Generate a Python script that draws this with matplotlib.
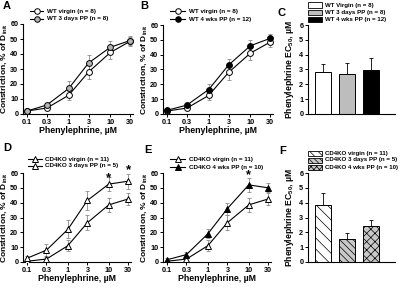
import matplotlib
matplotlib.use('Agg')
import matplotlib.pyplot as plt
import numpy as np

plt.rcParams['font.family'] = ['Liberation Sans', 'DejaVu Sans']
plt.rcParams['font.weight'] = 'bold'
plt.rcParams['axes.labelweight'] = 'bold'
plt.rcParams['mathtext.fontset'] = 'custom'
plt.rcParams['mathtext.rm'] = 'Liberation Sans:bold'
plt.rcParams['mathtext.bf'] = 'Liberation Sans:bold'
plt.rcParams['hatch.linewidth'] = 0.5

# data
conc = [0.1, 0.3, 1, 3, 10, 30]
wt_virgin = [2, 4, 12.5, 28, 41, 48.5]
wt_virgin_err = [1, 1, 3, 5, 4.5, 3]
wt_3d = [2, 6, 17, 34, 44.5, 49]
wt_3d_err = [1, 1.5, 5, 5.5, 4, 3]
wt_4w = [2.5, 6, 16.5, 33, 46, 51]
wt_4w_err = [1, 1, 3.5, 4, 4, 3]

ko_virgin = [0.5, 2, 11, 26.5, 38.5, 42.5]
ko_virgin_err = [1, 1.5, 3.5, 5, 4.5, 4]
ko_3d = [2.5, 8, 22, 41.5, 52.5, 54.5]
ko_3d_err = [1.5, 4, 6, 6.5, 4.5, 5]
ko_4w = [1.5, 5, 19, 36, 52, 50]
ko_4w_err = [1, 1.5, 3, 4, 4.5, 3]

wt_ec50 = [2.8, 2.7, 2.95]
wt_ec50_err = [0.55, 0.72, 0.85]
wt_labels = ['WT Virgin (n = 8)', 'WT 3 days PP (n = 8)', 'WT 4 wks PP (n = 12)']
ko_ec50 = [3.85, 1.55, 2.4]
ko_ec50_err = [0.82, 0.38, 0.4]
ko_labels = ['CD4KO virgin (n = 11)', 'CD4KO 3 days PP (n = 5)', 'CD4KO 4 wks PP (n = 10)']

star_d = [(10, 56.8), (30, 62.2)]
star_e = [(10, 58.3)]

fig = plt.figure(figsize=(4, 2.88), dpi=100)


def px_axes(l, t, r, b):
    return fig.add_axes([l / 400, 1 - b / 288, (r - l) / 400, (b - t) / 288])


def style(ax):
    ax.spines['top'].set_visible(False)
    ax.spines['right'].set_visible(False)
    for s in ['left', 'bottom']:
        ax.spines[s].set_linewidth(0.8)
    ax.tick_params(length=2.2, width=0.7, pad=1.2, labelsize=5.2)


def curve_panel(ax, series):
    for y, e, marker, fc in series:
        ax.errorbar(conc, y, yerr=e, fmt='none', ecolor='#8a8a8a', elinewidth=0.6,
                    capsize=1.3, capthick=0.6, zorder=2)
        ax.plot(conc, y, color='black', lw=0.8, marker=marker, ms=4.2 if marker == 'o' else 4.4,
                mfc=fc, mec='black', mew=0.7, zorder=3)
    ax.set_xscale('log')
    ax.set_xlim(0.08, 35)
    ax.set_ylim(0, 60)
    ax.set_xticks(conc)
    ax.set_xticklabels(['0.1', '0.3', '1', '3', '10', '30'])
    ax.minorticks_off()
    ax.set_yticks(range(0, 61, 10))
    ax.set_xlabel('Phenylephrine, µM', fontsize=6.3, labelpad=0.5)
    ax.set_ylabel(r'Constriction, % of D$_{\mathregular{init}}$', fontsize=6, labelpad=0.5)
    style(ax)


def legend_rows(x0, x1, xt, ys, entries):
    for y, (marker, fc, text) in zip(ys, entries):
        fig.add_artist(plt.Line2D([x0 / 400, x1 / 400], [1 - y / 288] * 2, color='black', lw=0.8))
        fig.add_artist(plt.Line2D([(x0 + x1) / 800], [1 - y / 288], marker=marker, ms=4,
                                  mfc=fc, mec='black', mew=0.7))
        fig.text(xt / 400, 1 - y / 288, text, fontsize=4.5, va='center', ha='left')


def bar_panel(ax, vals, errs, colors, hatches):
    x = np.arange(len(vals))
    ax.bar(x, vals, width=0.7, color=colors, edgecolor='black', linewidth=0.7,
           hatch=hatches, zorder=2)
    ax.errorbar(x, vals, yerr=[np.zeros(len(errs)), errs], fmt='none', ecolor='black',
                elinewidth=0.6, capsize=1.5, capthick=0.6, zorder=1)
    ax.set_xlim(-0.63, 3.0)
    ax.set_ylim(0, 6)
    ax.set_xticks([])
    ax.set_yticks(range(0, 7))
    ax.set_ylabel(r'Phenylephrine EC$_{\mathregular{50}}$, µM', fontsize=6.2, labelpad=2)
    style(ax)


def bar_legend(ys, colors, hatches, labels):
    for y, c, h, t in zip(ys, colors, hatches, labels):
        r = plt.Rectangle((308 / 400, 1 - (y + 2.5) / 288), 14 / 400, 5 / 288,
                          facecolor=c, edgecolor='black', linewidth=0.6, hatch=h,
                          transform=fig.transFigure)
        fig.add_artist(r)
        fig.text(325 / 400, 1 - y / 288, t, fontsize=4.4, va='center', ha='left')


# A
axA = px_axes(23, 24, 133, 114)
curve_panel(axA, [(wt_virgin, wt_virgin_err, 'o', 'white'), (wt_3d, wt_3d_err, 'o', '#b4b4b4')])
legend_rows(30, 43, 47, [11, 18.5], [('o', 'white', 'WT virgin (n = 8)'),
                                      ('o', '#b4b4b4', 'WT 3 days PP (n = 8)')])

# B
axB = px_axes(163, 25, 273, 114)
curve_panel(axB, [(wt_virgin, wt_virgin_err, 'o', 'white'), (wt_4w, wt_4w_err, 'o', 'black')])
legend_rows(170, 185, 189, [11, 19], [('o', 'white', 'WT virgin (n = 8)'),
                                       ('o', 'black', 'WT 4 wks PP (n = 12)')])

# C
axC = px_axes(308, 25, 395, 114)
wt_colors = ['white', '#bdbdbd', 'black']
bar_panel(axC, wt_ec50, wt_ec50_err, wt_colors, [None, None, None])
bar_legend([5, 12.3, 19.7], wt_colors, [None, None, None], wt_labels)

# D
axD = px_axes(23, 173, 131, 262)
curve_panel(axD, [(ko_virgin, ko_virgin_err, '^', 'white'), (ko_3d, ko_3d_err, '^', 'white')])
legend_rows(28, 42, 45, [159, 166], [('^', 'white', 'CD4KO virgin (n = 11)'),
                                      ('^', 'white', 'CD4KO 3 days PP (n = 5)')])
for xs, ys in star_d:
    axD.text(xs, ys, '*', fontsize=9.5, ha='center', va='center', clip_on=False)

# E
axE = px_axes(163, 173, 271, 262)
curve_panel(axE, [(ko_virgin, ko_virgin_err, '^', 'white'), (ko_4w, ko_4w_err, '^', 'black')])
legend_rows(170, 185, 189, [159, 167], [('^', 'white', 'CD4KO virgin (n = 11)'),
                                         ('^', 'black', 'CD4KO 4 wks PP (n = 10)')])
for xs, ys in star_e:
    axE.text(xs, ys, '*', fontsize=9, ha='center', va='center', clip_on=False)

# F
axF = px_axes(308, 173, 395, 262)
ko_colors = ['white', '#c8c8c8', '#c8c8c8']
ko_hatches = ['\\\\\\', '\\\\\\\\\\', 'xxxx']
bar_panel(axF, ko_ec50, ko_ec50_err, ko_colors, ko_hatches)
bar_legend([153, 160, 167], ko_colors, ['\\\\\\\\', '\\\\\\\\\\\\', 'xxxxxx'], ko_labels)

# panel letters
for lab, x, y in [('A', 3, 6), ('B', 140, 6), ('C', 278, 13), ('D', 3, 148), ('E', 144, 150), ('F', 279, 151)]:
    fig.text(x / 400, 1 - y / 288, lab, fontsize=8, fontweight='bold', va='center', ha='left')

fig.savefig('out.png', dpi=100)
